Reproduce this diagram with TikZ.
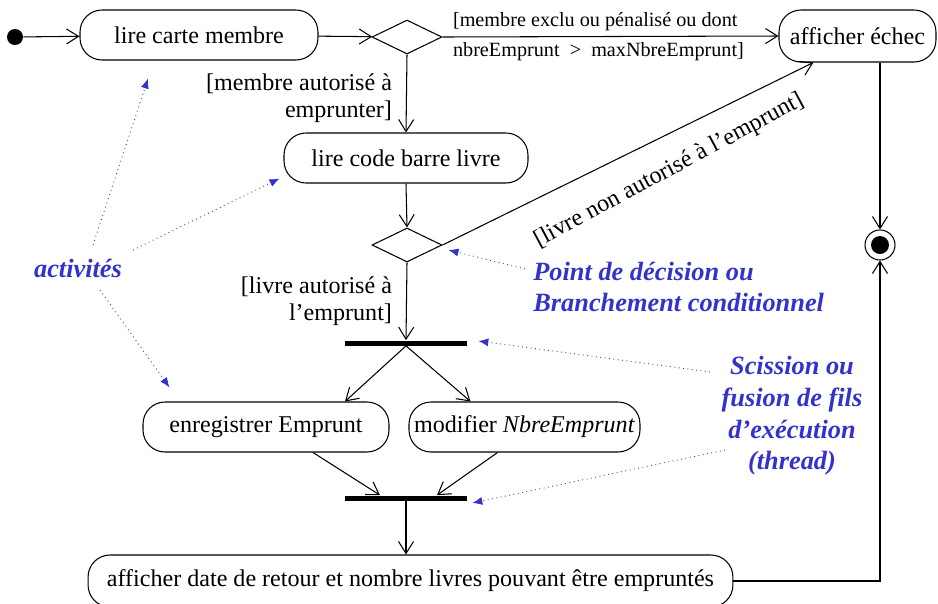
\documentclass[tikz,border=0pt]{standalone}
\usepackage{fontspec}
\setmainfont{Liberation Serif}
\usetikzlibrary{arrows.meta,calc,shapes.geometric}
\definecolor{NoteClr}{rgb}{0.2,0.2,0.8}

\begin{document}
\begin{tikzpicture}[x=0.02cm,y=-0.02cm,
  act/.style={draw,rounded corners=0.44cm,minimum height=1cm,inner sep=0,line width=0.6pt,font=\fontsize{13.7}{16}\selectfont},
  choix/.style={draw,diamond,minimum width=1.4cm,minimum height=0.68cm,inner sep=0,line width=0.6pt},
  barre/.style={fill=black,minimum width=2.44cm,minimum height=0.1cm,inner sep=0},
  flux/.style={line width=0.6pt,-{Straight Barb[length=2.4mm,width=3mm]}},
  garde/.style={font=\fontsize{13.7}{15.4}\selectfont,align=right,inner sep=0},
  petit/.style={font=\fontsize{11.5}{14}\selectfont,inner sep=0},
  note/.style={text=NoteClr,font=\fontsize{15}{18}\selectfont\bfseries\itshape,inner sep=0},
  renvoi/.style={NoteClr,dotted,line width=0.5pt,-{Latex[length=2mm,width=1.6mm]}}]

\useasboundingbox (0,0) rectangle (938,603);

\node[circle,fill,minimum size=0.32cm,inner sep=0] (debut) at (15,37) {};
\node[act,minimum width=4.76cm] (carte) at (199,35) {lire carte membre};
\node[choix] (d1) at (407,37) {};
\node[act,minimum width=3.14cm,minimum height=1.04cm] (echec) at (857.5,36) {afficher échec};
\node[act,minimum width=4.88cm] (code) at (406,158) {lire code barre livre};
\node[choix] (d2) at (407,245) {};
\node[circle,draw,minimum size=0.6cm,inner sep=0,line width=0.6pt] (fin) at (880,245) {};
\fill (fin.center) circle (0.18cm);

\node[barre] (f1) at (406,343) {};
\node[act,minimum width=4.92cm] (enreg) at (266,427) {enregistrer Emprunt};
\node[act,minimum width=4.62cm] (modif) at (524.5,427) {modifier \textit{NbreEmprunt}};
\node[barre] (f2) at (406,498) {};
\node[act,minimum width=12.9cm,minimum height=1.04cm] (retour) at (410.5,581)
  {afficher date de retour et nombre livres pouvant être empruntés};

% flot principal
\draw[flux] (debut) -- (carte);
\draw[flux] (carte) -- (d1);
\draw[flux] (d1.east) -- (echec.west)
  node[petit,pos=0,anchor=south west,xshift=0.2cm,yshift=0.12cm] {[membre exclu ou pénalisé ou dont}
  node[petit,pos=0,anchor=north west,xshift=0.2cm,yshift=-0.1cm] {nbreEmprunt \ > \ maxNbreEmprunt]};
\draw[flux] (d1.south) -- (code.north)
  node[garde,midway,left=0.28cm,yshift=-0.1cm] {[membre autorisé à\\ emprunter]};
\draw[flux] (code.south) -- (d2.north);
\draw[flux] (d2.east) -- (echec.211)
  node[font=\fontsize{13.7}{16}\selectfont,pos=0.57,sloped,below=0.32cm,rotate=2] {[livre non autorisé à l’emprunt]};
\draw[flux] (d2.south) -- (f1.north)
  node[garde,midway,left=0.28cm] {[livre autorisé à\\ l’emprunt]};

% scission et fusion
\draw[flux] (f1.south) -- ($(enreg.north)+(79,0)$);
\draw[flux] (f1.south) -- ($(modif.north)+(-54,0)$);
\draw[flux] ($(enreg.south)+(47,0)$) -- ($(f2.north)+(-26,0)$);
\draw[flux] ($(modif.south)+(-27,0)$) -- ($(f2.north)+(31,0)$);
\draw[flux] (f2.south) -- (f2.south |- retour.north);

% vers la fin
\draw[flux] (fin.north |- echec.south) -- (fin.north);
\draw[flux] (retour.east) -| (fin.south);

% annotations
\node[note] (activ) at (78,268) {activités};
\node[note,anchor=west,align=left] (decis) at (533,287) {Point de décision ou\\Branchement conditionnel};
\node[note,align=center] (sciss) at (792,416) {Scission ou\\fusion de fils\\d’exécution\\(thread)};

\draw[renvoi] ($(activ)+(15,-23)$) -- ($(carte.south)+(-51,18)$);
\draw[renvoi] ($(activ)+(55,-18)$) -- ($(code.south west)+(-4,-5)$);
\draw[renvoi] ($(activ)+(22,22)$) -- ($(enreg.north west)+(27,-14)$);
\draw[renvoi] ($(decis.west)+(-8,-18)$) -- ($(d2.east)+(6,5)$);
\draw[renvoi] ($(sciss)+(-82,-44)$) -- ($(f1.east)+(11,-2)$);
\draw[renvoi] ($(sciss)+(-67,34)$) -- ($(f2.east)+(5,5)$);

\end{tikzpicture}
\end{document}
